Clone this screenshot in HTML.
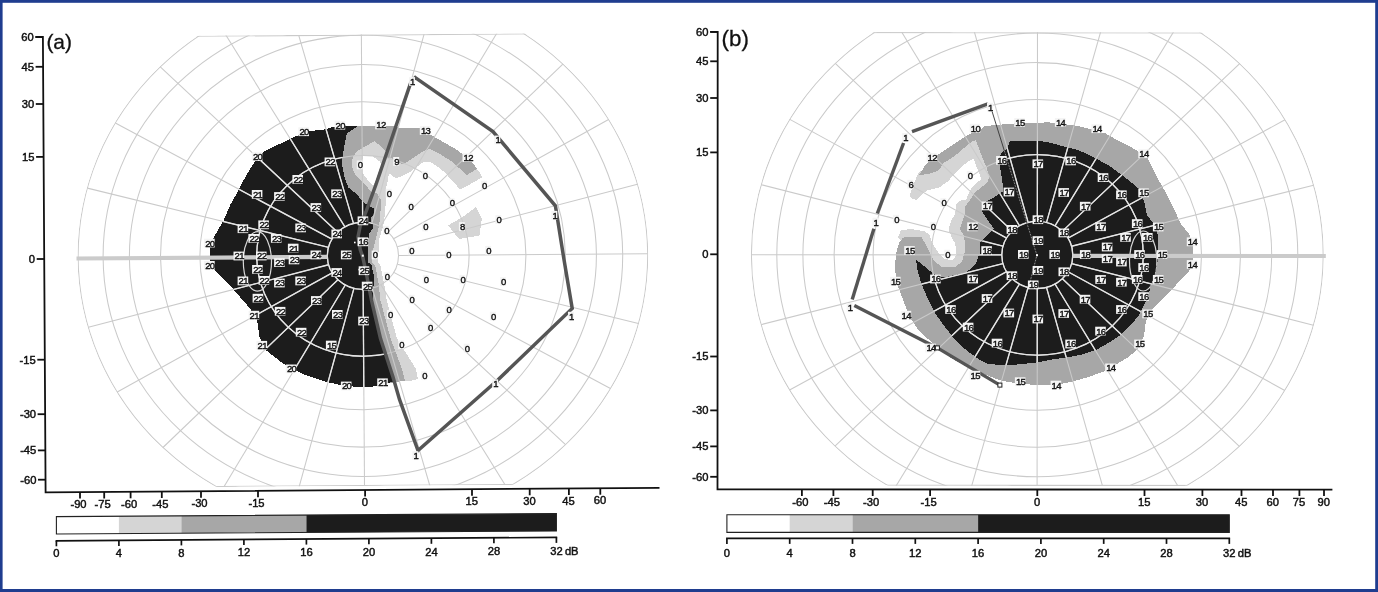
<!DOCTYPE html><html><head><meta charset="utf-8"><style>html,body{margin:0;padding:0;background:#fff}body{width:1378px;height:592px;overflow:hidden}</style></head><body><svg width="1378" height="592" viewBox="0 0 1378 592" style="display:block;will-change:transform;font-family:'Liberation Sans',sans-serif">
<defs>
<clipPath id="clipA"><polygon points="648.2,255.8 648.2,251.1 648.1,246.4 647.9,241.7 647.6,237.0 647.2,232.3 646.7,227.6 646.1,222.9 645.5,218.3 644.7,213.6 643.9,209.0 643.0,204.3 642.0,199.7 640.9,195.1 639.8,190.6 638.5,186.0 637.2,181.5 635.8,177.0 634.3,172.5 632.7,168.0 631.0,163.6 629.3,159.2 627.5,154.8 625.6,150.4 623.6,146.1 621.5,141.8 619.4,137.6 617.1,133.4 614.8,129.2 612.5,125.1 610.0,121.0 607.5,116.9 604.9,112.9 602.2,108.9 599.5,105.0 596.6,101.1 593.8,97.3 590.8,93.5 587.8,89.8 584.7,86.1 581.5,82.5 578.3,78.9 575.0,75.4 571.6,71.9 568.2,68.5 564.7,65.1 561.1,61.8 557.5,58.6 553.8,55.4 550.1,52.3 546.3,49.2 542.5,46.2 538.6,43.3 534.6,40.4 530.6,37.6 526.6,34.9 522.5,34.6 518.3,34.6 514.1,34.6 509.9,34.6 505.6,34.6 501.2,34.6 496.9,34.6 492.4,34.6 488.0,34.6 483.5,34.6 479.0,34.6 474.4,34.6 469.8,34.6 465.2,34.6 460.5,34.6 455.8,34.6 451.1,34.6 446.3,34.6 441.6,34.6 436.8,34.6 431.9,34.6 427.1,34.6 422.2,34.6 417.3,34.6 412.5,34.6 407.5,34.6 402.6,34.6 397.7,34.6 392.7,34.6 387.8,34.6 382.8,34.6 377.8,34.6 372.9,34.6 367.9,34.6 362.9,34.6 357.9,34.6 352.9,34.6 348.0,34.6 343.0,34.6 338.0,34.6 333.1,34.6 328.1,34.6 323.2,34.6 318.3,34.6 313.3,34.6 308.5,34.6 303.6,34.6 298.7,34.6 293.9,34.6 289.0,34.6 284.2,34.6 279.5,34.6 274.7,34.6 270.0,34.6 265.3,34.6 260.6,34.6 256.0,34.6 251.4,34.6 246.8,34.6 242.3,34.6 237.8,34.6 233.4,34.6 228.9,34.6 224.6,34.6 220.2,34.6 215.9,34.6 211.7,34.6 207.5,34.6 203.3,34.6 199.2,34.9 195.2,37.6 191.2,40.4 187.2,43.3 183.3,46.2 179.5,49.2 175.7,52.3 172.0,55.4 168.3,58.6 164.7,61.8 161.1,65.1 157.6,68.5 154.2,71.9 150.8,75.4 147.5,78.9 144.3,82.5 141.1,86.1 138.0,89.8 135.0,93.5 132.0,97.3 129.2,101.1 126.3,105.0 123.6,108.9 120.9,112.9 118.3,116.9 115.8,121.0 113.3,125.1 111.0,129.2 108.7,133.4 106.4,137.6 104.3,141.8 102.2,146.1 100.2,150.4 98.3,154.8 96.5,159.2 94.8,163.6 93.1,168.0 91.5,172.5 90.0,177.0 88.6,181.5 87.3,186.0 86.0,190.6 84.9,195.1 83.8,199.7 82.8,204.3 81.9,209.0 81.1,213.6 80.3,218.3 79.7,222.9 79.1,227.6 78.6,232.3 78.2,237.0 77.9,241.7 77.7,246.4 77.6,251.1 77.5,255.8 77.6,260.5 77.7,265.2 77.9,269.9 78.2,274.6 78.6,279.3 79.1,284.0 79.7,288.7 80.3,293.3 81.1,298.0 81.9,302.6 82.8,307.3 83.8,311.9 84.9,316.5 86.0,321.0 87.3,325.6 88.6,330.1 90.0,334.6 91.5,339.1 93.1,343.6 94.8,348.0 96.5,352.4 98.3,356.8 100.2,361.2 102.2,365.5 104.3,369.8 106.4,374.0 108.7,378.2 111.0,382.4 113.3,386.5 115.8,390.6 118.3,394.7 120.9,398.7 123.6,402.7 126.3,406.6 129.2,410.5 132.0,414.3 135.0,418.1 138.0,421.8 141.1,425.5 144.3,429.1 147.5,432.7 150.8,436.2 154.2,439.7 157.6,443.1 161.1,446.5 164.7,449.8 168.3,453.0 172.0,456.2 175.7,459.3 179.5,462.4 183.3,465.4 187.2,468.3 191.2,471.2 195.2,474.0 199.2,476.7 203.3,479.4 207.5,482.0 211.7,484.5 215.9,486.0 220.2,486.0 224.6,486.0 228.9,486.0 233.4,486.0 237.8,486.0 242.3,486.0 246.8,486.0 251.4,486.0 256.0,486.0 260.6,486.0 265.3,486.0 270.0,486.0 274.7,486.0 279.5,486.0 284.2,486.0 289.0,486.0 293.9,486.0 298.7,486.0 303.6,486.0 308.5,486.0 313.3,486.0 318.3,486.0 323.2,486.0 328.1,486.0 333.1,486.0 338.0,486.0 343.0,486.0 348.0,486.0 352.9,486.0 357.9,486.0 362.9,486.0 367.9,486.0 372.9,486.0 377.8,486.0 382.8,486.0 387.8,486.0 392.7,486.0 397.7,486.0 402.6,486.0 407.5,486.0 412.5,486.0 417.3,486.0 422.2,486.0 427.1,486.0 431.9,486.0 436.8,486.0 441.6,486.0 446.3,486.0 451.1,486.0 455.8,486.0 460.5,486.0 465.2,486.0 469.8,486.0 474.4,486.0 479.0,486.0 483.5,486.0 488.0,486.0 492.4,486.0 496.9,486.0 501.2,486.0 505.6,486.0 509.9,486.0 514.1,484.5 518.3,482.0 522.5,479.4 526.6,476.7 530.6,474.0 534.6,471.2 538.6,468.3 542.5,465.4 546.3,462.4 550.1,459.3 553.8,456.2 557.5,453.0 561.1,449.8 564.7,446.5 568.2,443.1 571.6,439.7 575.0,436.2 578.3,432.7 581.5,429.1 584.7,425.5 587.8,421.8 590.8,418.1 593.8,414.3 596.6,410.5 599.5,406.6 602.2,402.7 604.9,398.7 607.5,394.7 610.0,390.6 612.5,386.5 614.8,382.4 617.1,378.2 619.4,374.0 621.5,369.8 623.6,365.5 625.6,361.2 627.5,356.8 629.3,352.4 631.0,348.0 632.7,343.6 634.3,339.1 635.8,334.6 637.2,330.1 638.5,325.6 639.8,321.0 640.9,316.5 642.0,311.9 643.0,307.3 643.9,302.6 644.7,298.0 645.5,293.3 646.1,288.7 646.7,284.0 647.2,279.3 647.6,274.6 647.9,269.9 648.1,265.2 648.2,260.5 648.2,255.8"/></clipPath>
<clipPath id="clipB"><polygon points="1323.8,254.9 1323.8,250.2 1323.6,245.4 1323.4,240.7 1323.1,236.0 1322.7,231.3 1322.2,226.6 1321.7,221.8 1321.0,217.2 1320.3,212.5 1319.4,207.8 1318.5,203.2 1317.5,198.5 1316.5,193.9 1315.3,189.3 1314.0,184.7 1312.7,180.1 1311.3,175.6 1309.8,171.1 1308.2,166.6 1306.5,162.1 1304.8,157.7 1302.9,153.3 1301.0,148.9 1299.0,144.6 1297.0,140.3 1294.8,136.0 1292.6,131.8 1290.3,127.6 1287.9,123.4 1285.4,119.3 1282.9,115.2 1280.3,111.2 1277.6,107.2 1274.8,103.2 1272.0,99.3 1269.1,95.5 1266.1,91.7 1263.1,87.9 1260.0,84.2 1256.8,80.6 1253.5,77.0 1250.2,73.4 1246.8,69.9 1243.4,66.5 1239.9,63.1 1236.3,59.8 1232.7,56.6 1229.0,53.4 1225.3,50.2 1221.5,47.1 1217.6,44.1 1213.7,41.2 1209.7,38.3 1205.7,35.5 1201.6,32.7 1197.5,32.2 1193.3,32.2 1189.1,32.2 1184.9,32.2 1180.5,32.2 1176.2,32.2 1171.8,32.2 1167.4,32.2 1162.9,32.2 1158.4,32.2 1153.8,32.2 1149.2,32.2 1144.6,32.2 1140.0,32.2 1135.3,32.2 1130.6,32.2 1125.8,32.2 1121.1,32.2 1116.3,32.2 1111.5,32.2 1106.6,32.2 1101.7,32.2 1096.9,32.2 1092.0,32.2 1087.1,32.2 1082.1,32.2 1077.2,32.2 1072.2,32.2 1067.2,32.2 1062.3,32.2 1057.3,32.2 1052.3,32.2 1047.3,32.2 1042.3,32.2 1037.3,32.2 1032.3,32.2 1027.3,32.2 1022.3,32.2 1017.3,32.2 1012.3,32.2 1007.4,32.2 1002.4,32.2 997.4,32.2 992.5,32.2 987.5,32.2 982.6,32.2 977.7,32.2 972.9,32.2 968.0,32.2 963.1,32.2 958.3,32.2 953.5,32.2 948.8,32.2 944.0,32.2 939.3,32.2 934.6,32.2 930.0,32.2 925.4,32.2 920.8,32.2 916.2,32.2 911.7,32.2 907.2,32.2 902.8,32.2 898.4,32.2 894.0,32.2 889.7,32.2 885.5,32.2 881.3,32.2 877.1,32.2 873.0,32.7 868.9,35.5 864.9,38.3 860.9,41.2 857.0,44.1 853.1,47.1 849.3,50.2 845.6,53.4 841.9,56.6 838.3,59.8 834.7,63.1 831.2,66.5 827.8,69.9 824.4,73.4 821.1,77.0 817.8,80.6 814.6,84.2 811.5,87.9 808.5,91.7 805.5,95.5 802.6,99.3 799.8,103.2 797.0,107.2 794.3,111.2 791.7,115.2 789.2,119.3 786.7,123.4 784.3,127.6 782.0,131.8 779.8,136.0 777.6,140.3 775.6,144.6 773.6,148.9 771.7,153.3 769.8,157.7 768.1,162.1 766.4,166.6 764.8,171.1 763.3,175.6 761.9,180.1 760.6,184.7 759.3,189.3 758.1,193.9 757.1,198.5 756.1,203.2 755.2,207.8 754.3,212.5 753.6,217.2 752.9,221.8 752.4,226.6 751.9,231.3 751.5,236.0 751.2,240.7 751.0,245.4 750.8,250.2 750.8,254.9 750.8,259.6 751.0,264.4 751.2,269.1 751.5,273.8 751.9,278.5 752.4,283.2 752.9,288.0 753.6,292.6 754.3,297.3 755.2,302.0 756.1,306.6 757.1,311.3 758.1,315.9 759.3,320.5 760.6,325.1 761.9,329.7 763.3,334.2 764.8,338.7 766.4,343.2 768.1,347.7 769.8,352.1 771.7,356.5 773.6,360.9 775.6,365.2 777.6,369.5 779.8,373.8 782.0,378.0 784.3,382.2 786.7,386.4 789.2,390.5 791.7,394.6 794.3,398.6 797.0,402.6 799.8,406.6 802.6,410.5 805.5,414.3 808.5,418.1 811.5,421.9 814.6,425.6 817.8,429.2 821.1,432.8 824.4,436.4 827.8,439.9 831.2,443.3 834.7,446.7 838.3,450.0 841.9,453.2 845.6,456.4 849.3,459.6 853.1,462.7 857.0,465.7 860.9,468.6 864.9,471.5 868.9,474.3 873.0,477.1 877.1,479.7 881.3,482.3 885.5,484.9 889.7,485.9 894.0,485.9 898.4,485.9 902.8,485.9 907.2,485.9 911.7,485.9 916.2,485.9 920.8,485.9 925.4,485.9 930.0,485.9 934.6,485.9 939.3,485.9 944.0,485.9 948.8,485.9 953.5,485.9 958.3,485.9 963.1,485.9 968.0,485.9 972.9,485.9 977.7,485.9 982.6,485.9 987.5,485.9 992.5,485.9 997.4,485.9 1002.4,485.9 1007.4,485.9 1012.3,485.9 1017.3,485.9 1022.3,485.9 1027.3,485.9 1032.3,485.9 1037.3,485.9 1042.3,485.9 1047.3,485.9 1052.3,485.9 1057.3,485.9 1062.3,485.9 1067.2,485.9 1072.2,485.9 1077.2,485.9 1082.1,485.9 1087.1,485.9 1092.0,485.9 1096.9,485.9 1101.7,485.9 1106.6,485.9 1111.5,485.9 1116.3,485.9 1121.1,485.9 1125.8,485.9 1130.6,485.9 1135.3,485.9 1140.0,485.9 1144.6,485.9 1149.2,485.9 1153.8,485.9 1158.4,485.9 1162.9,485.9 1167.4,485.9 1171.8,485.9 1176.2,485.9 1180.5,485.9 1184.9,485.9 1189.1,484.9 1193.3,482.3 1197.5,479.7 1201.6,477.1 1205.7,474.3 1209.7,471.5 1213.7,468.6 1217.6,465.7 1221.5,462.7 1225.3,459.6 1229.0,456.4 1232.7,453.2 1236.3,450.0 1239.9,446.7 1243.4,443.3 1246.8,439.9 1250.2,436.4 1253.5,432.8 1256.8,429.2 1260.0,425.6 1263.1,421.9 1266.1,418.1 1269.1,414.3 1272.0,410.5 1274.8,406.6 1277.6,402.6 1280.3,398.6 1282.9,394.6 1285.4,390.5 1287.9,386.4 1290.3,382.2 1292.6,378.0 1294.8,373.8 1297.0,369.5 1299.0,365.2 1301.0,360.9 1302.9,356.5 1304.8,352.1 1306.5,347.7 1308.2,343.2 1309.8,338.7 1311.3,334.2 1312.7,329.7 1314.0,325.1 1315.3,320.5 1316.5,315.9 1317.5,311.3 1318.5,306.6 1319.4,302.0 1320.3,297.3 1321.0,292.6 1321.7,288.0 1322.2,283.2 1322.7,278.5 1323.1,273.8 1323.4,269.1 1323.6,264.4 1323.8,259.6 1323.8,254.9"/></clipPath>
<clipPath id="blkA"><polygon points="357.8,126.0 335.1,126.4 325.0,129.4 309.8,131.0 296.3,136.1 287.8,140.3 272.6,147.1 264.2,151.3 255.7,160.6 249.0,170.7 242.2,182.6 236.3,194.4 230.4,204.5 223.8,220.0 214.6,236.0 210.0,246.0 210.0,266.0 214.6,270.0 229.0,284.5 247.5,305.5 256.6,317.0 259.5,337.0 265.7,350.0 283.0,363.5 304.0,374.5 325.0,381.5 344.0,385.8 365.3,387.5 380.0,385.5 393.2,381.6 389.4,369.0 384.3,351.3 378.0,326.0 372.9,300.6 372.9,290.5 374.5,279.0 371.6,265.2 367.7,262.0 367.7,252.6 368.4,239.0 369.5,233.0 372.5,229.0 373.0,224.0 371.0,222.0 370.5,218.8 374.0,214.0 374.5,209.0 371.0,207.0 365.0,203.5 362.0,201.1 357.0,194.4 348.5,187.6 345.1,179.2 341.8,164.0 342.6,155.5 345.1,142.0 346.8,133.6"/></clipPath>
<clipPath id="blkB"><polygon points="1010.0,140.7 1037.3,140.7 1049.1,142.5 1066.8,147.2 1078.7,150.2 1094.4,157.7 1108.6,165.4 1122.7,175.5 1140.0,189.6 1144.5,203.0 1147.0,215.0 1153.9,224.1 1157.7,234.8 1158.4,245.4 1158.5,257.2 1155.4,272.8 1150.8,286.5 1146.8,299.4 1139.0,315.0 1131.3,324.7 1121.6,334.4 1109.9,342.1 1096.3,349.9 1080.8,354.8 1065.2,357.7 1051.7,359.6 1035.9,362.6 1016.5,364.5 1001.0,365.4 987.4,363.5 977.7,358.6 966.0,349.9 955.3,340.2 944.7,326.6 935.0,313.0 928.2,299.4 921.4,283.9 917.7,271.0 916.1,259.7 924.2,266.1 933.8,274.2 943.4,277.4 965.9,272.6 975.5,264.5 980.3,251.7 980.5,242.4 994.0,228.9 987.0,219.0 981.9,211.4 983.2,203.2 995.4,196.5 1003.5,191.0 1002.2,180.3 999.8,166.0 1000.6,154.0 1007.7,147.8"/></clipPath>
</defs>
<rect x="0" y="0" width="1378" height="592" fill="#1f3d8f"/>
<rect x="2.6" y="2.8" width="1372.6" height="586.2" fill="#ffffff"/>
<g shape-rendering="crispEdges">
<polygon points="385.7,150.0 400.0,150.0 430.0,146.0 460.0,160.0 478.6,170.7 482.0,177.5 470.1,184.3 460.0,189.3 451.6,180.0 444.8,172.4 436.4,165.7 429.0,161.5 422.8,162.3 416.1,167.4 409.3,172.4 402.6,175.8 395.8,178.3 389.0,173.3 387.4,182.6 385.7,189.3 385.7,199.5 385.3,212.0 383.2,225.5 379.2,239.0 378.5,252.6 378.0,262.0 380.5,266.0 384.0,283.0 386.8,300.6 397.0,338.6 416.0,369.0 418.0,379.0 410.0,381.0 400.0,381.0 390.0,350.0 376.0,300.0 368.0,256.0 366.0,210.0 360.0,190.0 350.0,170.0 350.0,155.0 358.0,146.0 366.5,143.0 374.7,141.2 380.6,146.3" fill="#d5d5d5"/>
<polygon points="476.0,206.9 481.8,218.7 479.5,235.6 459.2,239.0 448.0,225.4 462.6,217.0" fill="#d5d5d5"/>
<polygon points="362.9,156.4 373.0,156.4 379.8,161.5 381.5,164.0 379.0,170.7 375.5,180.9 373.0,185.9 367.1,179.2 362.0,172.4 362.0,162.3" fill="#ffffff"/>
<polygon points="346.0,126.0 393.0,126.0 400.0,128.0 419.5,128.5 433.0,136.1 444.8,142.9 456.6,149.6 463.4,154.7 473.5,164.0 476.9,169.0 466.8,175.0 458.3,167.4 453.2,162.3 439.7,153.9 429.6,148.8 422.8,151.3 414.4,157.2 407.6,161.5 402.6,164.0 399.2,163.1 393.3,158.9 385.7,157.2 385.7,151.3 380.6,146.3 374.7,141.2 367.1,145.4 357.0,151.3 352.7,157.2 351.9,165.7 354.4,173.3 360.3,180.0 367.1,186.8 371.3,191.9 377.0,193.5 380.6,199.5 380.5,212.0 379.2,225.5 375.8,239.0 372.4,252.6 372.0,262.0 375.4,266.0 378.5,283.0 380.5,300.6 390.6,338.6 402.0,369.0 405.0,380.5 390.0,383.0 365.0,300.0 360.0,256.0 360.0,210.0 346.0,190.0 338.0,160.0 340.0,135.0" fill="#a7a7a7"/>
<polygon points="357.8,126.0 335.1,126.4 325.0,129.4 309.8,131.0 296.3,136.1 287.8,140.3 272.6,147.1 264.2,151.3 255.7,160.6 249.0,170.7 242.2,182.6 236.3,194.4 230.4,204.5 223.8,220.0 214.6,236.0 210.0,246.0 210.0,266.0 214.6,270.0 229.0,284.5 247.5,305.5 256.6,317.0 259.5,337.0 265.7,350.0 283.0,363.5 304.0,374.5 325.0,381.5 344.0,385.8 365.3,387.5 380.0,385.5 393.2,381.6 389.4,369.0 384.3,351.3 378.0,326.0 372.9,300.6 372.9,290.5 374.5,279.0 371.6,265.2 367.7,262.0 367.7,252.6 368.4,239.0 369.5,233.0 372.5,229.0 373.0,224.0 371.0,222.0 370.5,218.8 374.0,214.0 374.5,209.0 371.0,207.0 365.0,203.5 362.0,201.1 357.0,194.4 348.5,187.6 345.1,179.2 341.8,164.0 342.6,155.5 345.1,142.0 346.8,133.6" fill="#1c1c1c"/>
</g>
<g transform="rotate(-0.40 362.9 255.8)" clip-path="url(#clipA)" fill="none" stroke="#cacaca" stroke-width="1.05" ><ellipse cx="362.9" cy="255.8" rx="35.6" ry="33.6"/><ellipse cx="362.9" cy="255.8" rx="106.2" ry="100.4"/><ellipse cx="362.9" cy="255.8" rx="163.0" ry="154.0"/><ellipse cx="362.9" cy="255.8" rx="202.4" ry="191.3"/><ellipse cx="362.9" cy="255.8" rx="233.5" ry="220.7"/><ellipse cx="362.9" cy="255.8" rx="259.8" ry="245.5"/><ellipse cx="362.9" cy="255.8" rx="284.8" ry="269.1"/><line x1="398.5" y1="255.8" x2="647.6" y2="255.8"/><line x1="397.3" y1="247.1" x2="637.9" y2="186.2"/><line x1="393.7" y1="239.0" x2="609.5" y2="121.3"/><line x1="388.1" y1="232.0" x2="564.2" y2="65.5"/><line x1="380.7" y1="226.7" x2="505.3" y2="22.8"/><line x1="372.1" y1="223.3" x2="436.6" y2="-4.1"/><line x1="362.9" y1="222.2" x2="362.9" y2="-13.3"/><line x1="353.7" y1="223.3" x2="289.2" y2="-4.1"/><line x1="345.1" y1="226.7" x2="220.5" y2="22.8"/><line x1="337.7" y1="232.0" x2="161.6" y2="65.5"/><line x1="332.1" y1="239.0" x2="116.3" y2="121.3"/><line x1="328.5" y1="247.1" x2="87.9" y2="186.2"/><line x1="327.3" y1="255.8" x2="78.1" y2="255.8"/><line x1="328.5" y1="264.5" x2="87.9" y2="325.4"/><line x1="332.1" y1="272.6" x2="116.3" y2="390.3"/><line x1="337.7" y1="279.6" x2="161.6" y2="446.1"/><line x1="345.1" y1="284.9" x2="220.5" y2="488.8"/><line x1="353.7" y1="288.3" x2="289.2" y2="515.7"/><line x1="362.9" y1="289.4" x2="362.9" y2="524.9"/><line x1="372.1" y1="288.3" x2="436.6" y2="515.7"/><line x1="380.7" y1="284.9" x2="505.3" y2="488.8"/><line x1="388.1" y1="279.6" x2="564.2" y2="446.1"/><line x1="393.7" y1="272.6" x2="609.5" y2="390.3"/><line x1="397.3" y1="264.5" x2="637.9" y2="325.4"/><line x1="62.9" y1="35.1" x2="662.9" y2="35.1"/><line x1="62.9" y1="485.5" x2="662.9" y2="485.5"/></g>
<g clip-path="url(#blkA)"><g transform="rotate(-0.40 362.9 255.8)" clip-path="url(#clipA)" fill="none" stroke="#e6e6e6" stroke-width="1.35" ><ellipse cx="362.9" cy="255.8" rx="35.6" ry="33.6"/><ellipse cx="362.9" cy="255.8" rx="106.2" ry="100.4"/><ellipse cx="362.9" cy="255.8" rx="163.0" ry="154.0"/><ellipse cx="362.9" cy="255.8" rx="202.4" ry="191.3"/><ellipse cx="362.9" cy="255.8" rx="233.5" ry="220.7"/><ellipse cx="362.9" cy="255.8" rx="259.8" ry="245.5"/><ellipse cx="362.9" cy="255.8" rx="284.8" ry="269.1"/><line x1="398.5" y1="255.8" x2="647.6" y2="255.8"/><line x1="397.3" y1="247.1" x2="637.9" y2="186.2"/><line x1="393.7" y1="239.0" x2="609.5" y2="121.3"/><line x1="388.1" y1="232.0" x2="564.2" y2="65.5"/><line x1="380.7" y1="226.7" x2="505.3" y2="22.8"/><line x1="372.1" y1="223.3" x2="436.6" y2="-4.1"/><line x1="362.9" y1="222.2" x2="362.9" y2="-13.3"/><line x1="353.7" y1="223.3" x2="289.2" y2="-4.1"/><line x1="345.1" y1="226.7" x2="220.5" y2="22.8"/><line x1="337.7" y1="232.0" x2="161.6" y2="65.5"/><line x1="332.1" y1="239.0" x2="116.3" y2="121.3"/><line x1="328.5" y1="247.1" x2="87.9" y2="186.2"/><line x1="327.3" y1="255.8" x2="78.1" y2="255.8"/><line x1="328.5" y1="264.5" x2="87.9" y2="325.4"/><line x1="332.1" y1="272.6" x2="116.3" y2="390.3"/><line x1="337.7" y1="279.6" x2="161.6" y2="446.1"/><line x1="345.1" y1="284.9" x2="220.5" y2="488.8"/><line x1="353.7" y1="288.3" x2="289.2" y2="515.7"/><line x1="362.9" y1="289.4" x2="362.9" y2="524.9"/><line x1="372.1" y1="288.3" x2="436.6" y2="515.7"/><line x1="380.7" y1="284.9" x2="505.3" y2="488.8"/><line x1="388.1" y1="279.6" x2="564.2" y2="446.1"/><line x1="393.7" y1="272.6" x2="609.5" y2="390.3"/><line x1="397.3" y1="264.5" x2="637.9" y2="325.4"/><line x1="62.9" y1="35.1" x2="662.9" y2="35.1"/><line x1="62.9" y1="485.5" x2="662.9" y2="485.5"/></g><ellipse cx="257.4" cy="261.4" rx="14.1" ry="29.7" fill="none" stroke="#d8d8d8" stroke-width="1.2"/></g>
<line x1="76.5" y1="258.5" x2="327.5" y2="256.8" stroke="#cbcbcb" stroke-width="4.2"/>
<polygon points="415.3,77.6 493.0,131.6 555.4,205.8 563.9,259.0 572.2,308.5 497.8,380.0 418.0,450.5 399.5,399.4 393.0,377.0 380.5,338.6 371.6,300.6 366.0,272.0 362.5,256.0 360.3,249.9 358.0,237.0 360.3,225.5 366.4,210.7 375.8,185.0 411.0,82.0" fill="none" stroke="#555555" stroke-width="3.5" stroke-linejoin="miter"/>
<rect x="361.8" y="254.7" width="2" height="2" fill="#fff"/>
<rect x="354" y="241.7" width="1.6" height="1.6" fill="#fff"/><rect x="358.4" y="268.8" width="1.6" height="1.6" fill="#fff"/>
<rect x="334.6" y="120.8" width="10.6" height="8.8" fill="#f4f4f4"/><text x="340.2" y="128.6" text-anchor="middle" font-size="9.5" letter-spacing="-0.7" fill="#111" stroke="#111" stroke-width="0.38">20</text>
<rect x="298.4" y="127.3" width="10.6" height="8.8" fill="#f4f4f4"/><text x="304.1" y="135.1" text-anchor="middle" font-size="9.5" letter-spacing="-0.7" fill="#111" stroke="#111" stroke-width="0.38">20</text>
<rect x="251.8" y="152.2" width="10.6" height="8.8" fill="#f4f4f4"/><text x="257.5" y="160.0" text-anchor="middle" font-size="9.5" letter-spacing="-0.7" fill="#111" stroke="#111" stroke-width="0.38">20</text>
<rect x="324.6" y="157.5" width="10.6" height="8.8" fill="#f4f4f4"/><text x="330.2" y="165.3" text-anchor="middle" font-size="9.5" letter-spacing="-0.7" fill="#111" stroke="#111" stroke-width="0.38">22</text>
<rect x="292.4" y="175.0" width="10.6" height="8.8" fill="#f4f4f4"/><text x="298.1" y="182.8" text-anchor="middle" font-size="9.5" letter-spacing="-0.7" fill="#111" stroke="#111" stroke-width="0.38">22</text>
<rect x="251.8" y="190.0" width="10.6" height="8.8" fill="#f4f4f4"/><text x="257.5" y="197.8" text-anchor="middle" font-size="9.5" letter-spacing="-0.7" fill="#111" stroke="#111" stroke-width="0.38">21</text>
<rect x="274.1" y="192.1" width="10.6" height="8.8" fill="#f4f4f4"/><text x="279.8" y="199.9" text-anchor="middle" font-size="9.5" letter-spacing="-0.7" fill="#111" stroke="#111" stroke-width="0.38">22</text>
<rect x="331.2" y="189.4" width="10.6" height="8.8" fill="#f4f4f4"/><text x="336.9" y="197.2" text-anchor="middle" font-size="9.5" letter-spacing="-0.7" fill="#111" stroke="#111" stroke-width="0.38">23</text>
<rect x="310.5" y="203.1" width="10.6" height="8.8" fill="#f4f4f4"/><text x="316.2" y="210.9" text-anchor="middle" font-size="9.5" letter-spacing="-0.7" fill="#111" stroke="#111" stroke-width="0.38">23</text>
<rect x="357.6" y="216.4" width="10.6" height="8.8" fill="#f4f4f4"/><text x="363.2" y="224.2" text-anchor="middle" font-size="9.5" letter-spacing="-0.7" fill="#111" stroke="#111" stroke-width="0.38">24</text>
<rect x="258.3" y="220.4" width="10.6" height="8.8" fill="#f4f4f4"/><text x="264.0" y="228.2" text-anchor="middle" font-size="9.5" letter-spacing="-0.7" fill="#111" stroke="#111" stroke-width="0.38">22</text>
<rect x="237.6" y="224.3" width="10.6" height="8.8" fill="#f4f4f4"/><text x="243.2" y="232.1" text-anchor="middle" font-size="9.5" letter-spacing="-0.7" fill="#111" stroke="#111" stroke-width="0.38">21</text>
<rect x="295.3" y="223.5" width="10.6" height="8.8" fill="#f4f4f4"/><text x="301.0" y="231.3" text-anchor="middle" font-size="9.5" letter-spacing="-0.7" fill="#111" stroke="#111" stroke-width="0.38">23</text>
<rect x="331.4" y="229.5" width="10.6" height="8.8" fill="#f4f4f4"/><text x="337.1" y="237.3" text-anchor="middle" font-size="9.5" letter-spacing="-0.7" fill="#111" stroke="#111" stroke-width="0.38">24</text>
<rect x="248.4" y="234.0" width="10.6" height="8.8" fill="#f4f4f4"/><text x="254.0" y="241.8" text-anchor="middle" font-size="9.5" letter-spacing="-0.7" fill="#111" stroke="#111" stroke-width="0.38">22</text>
<rect x="270.9" y="234.0" width="10.6" height="8.8" fill="#f4f4f4"/><text x="276.6" y="241.8" text-anchor="middle" font-size="9.5" letter-spacing="-0.7" fill="#111" stroke="#111" stroke-width="0.38">23</text>
<rect x="357.6" y="237.4" width="10.6" height="8.8" fill="#f4f4f4"/><text x="363.2" y="245.2" text-anchor="middle" font-size="9.5" letter-spacing="-0.7" fill="#111" stroke="#111" stroke-width="0.38">16</text>
<rect x="204.1" y="238.7" width="10.6" height="8.8" fill="#f4f4f4"/><text x="209.8" y="246.5" text-anchor="middle" font-size="9.5" letter-spacing="-0.7" fill="#111" stroke="#111" stroke-width="0.38">20</text>
<rect x="287.9" y="243.7" width="10.6" height="8.8" fill="#f4f4f4"/><text x="293.6" y="251.5" text-anchor="middle" font-size="9.5" letter-spacing="-0.7" fill="#111" stroke="#111" stroke-width="0.38">21</text>
<rect x="340.9" y="250.5" width="10.6" height="8.8" fill="#f4f4f4"/><text x="346.6" y="258.3" text-anchor="middle" font-size="9.5" letter-spacing="-0.7" fill="#111" stroke="#111" stroke-width="0.38">25</text>
<rect x="310.5" y="250.5" width="10.6" height="8.8" fill="#f4f4f4"/><text x="316.2" y="258.3" text-anchor="middle" font-size="9.5" letter-spacing="-0.7" fill="#111" stroke="#111" stroke-width="0.38">24</text>
<rect x="233.5" y="251.6" width="10.6" height="8.8" fill="#f4f4f4"/><text x="239.2" y="259.4" text-anchor="middle" font-size="9.5" letter-spacing="-0.7" fill="#111" stroke="#111" stroke-width="0.38">21</text>
<rect x="256.0" y="251.6" width="10.6" height="8.8" fill="#f4f4f4"/><text x="261.7" y="259.4" text-anchor="middle" font-size="9.5" letter-spacing="-0.7" fill="#111" stroke="#111" stroke-width="0.38">22</text>
<rect x="288.7" y="255.5" width="10.6" height="8.8" fill="#f4f4f4"/><text x="294.4" y="263.3" text-anchor="middle" font-size="9.5" letter-spacing="-0.7" fill="#111" stroke="#111" stroke-width="0.38">23</text>
<rect x="274.1" y="258.2" width="10.6" height="8.8" fill="#f4f4f4"/><text x="279.8" y="266.0" text-anchor="middle" font-size="9.5" letter-spacing="-0.7" fill="#111" stroke="#111" stroke-width="0.38">23</text>
<rect x="204.1" y="261.0" width="10.6" height="8.8" fill="#f4f4f4"/><text x="209.8" y="268.8" text-anchor="middle" font-size="9.5" letter-spacing="-0.7" fill="#111" stroke="#111" stroke-width="0.38">20</text>
<rect x="252.1" y="265.0" width="10.6" height="8.8" fill="#f4f4f4"/><text x="257.8" y="272.8" text-anchor="middle" font-size="9.5" letter-spacing="-0.7" fill="#111" stroke="#111" stroke-width="0.38">22</text>
<rect x="358.7" y="266.3" width="10.6" height="8.8" fill="#f4f4f4"/><text x="364.4" y="274.1" text-anchor="middle" font-size="9.5" letter-spacing="-0.7" fill="#111" stroke="#111" stroke-width="0.38">25</text>
<rect x="331.4" y="268.1" width="10.6" height="8.8" fill="#f4f4f4"/><text x="337.1" y="275.9" text-anchor="middle" font-size="9.5" letter-spacing="-0.7" fill="#111" stroke="#111" stroke-width="0.38">24</text>
<rect x="237.6" y="276.5" width="10.6" height="8.8" fill="#f4f4f4"/><text x="243.2" y="284.3" text-anchor="middle" font-size="9.5" letter-spacing="-0.7" fill="#111" stroke="#111" stroke-width="0.38">21</text>
<rect x="258.6" y="276.0" width="10.6" height="8.8" fill="#f4f4f4"/><text x="264.2" y="283.8" text-anchor="middle" font-size="9.5" letter-spacing="-0.7" fill="#111" stroke="#111" stroke-width="0.38">22</text>
<rect x="274.1" y="278.6" width="10.6" height="8.8" fill="#f4f4f4"/><text x="279.8" y="286.4" text-anchor="middle" font-size="9.5" letter-spacing="-0.7" fill="#111" stroke="#111" stroke-width="0.38">23</text>
<rect x="295.3" y="276.5" width="10.6" height="8.8" fill="#f4f4f4"/><text x="301.0" y="284.3" text-anchor="middle" font-size="9.5" letter-spacing="-0.7" fill="#111" stroke="#111" stroke-width="0.38">23</text>
<rect x="361.8" y="281.7" width="10.6" height="8.8" fill="#f4f4f4"/><text x="367.5" y="289.5" text-anchor="middle" font-size="9.5" letter-spacing="-0.7" fill="#111" stroke="#111" stroke-width="0.38">25</text>
<rect x="252.6" y="293.8" width="10.6" height="8.8" fill="#f4f4f4"/><text x="258.2" y="301.6" text-anchor="middle" font-size="9.5" letter-spacing="-0.7" fill="#111" stroke="#111" stroke-width="0.38">22</text>
<rect x="311.0" y="296.1" width="10.6" height="8.8" fill="#f4f4f4"/><text x="316.7" y="303.9" text-anchor="middle" font-size="9.5" letter-spacing="-0.7" fill="#111" stroke="#111" stroke-width="0.38">23</text>
<rect x="274.8" y="306.9" width="10.6" height="8.8" fill="#f4f4f4"/><text x="280.5" y="314.7" text-anchor="middle" font-size="9.5" letter-spacing="-0.7" fill="#111" stroke="#111" stroke-width="0.38">22</text>
<rect x="248.6" y="310.8" width="10.6" height="8.8" fill="#f4f4f4"/><text x="254.2" y="318.6" text-anchor="middle" font-size="9.5" letter-spacing="-0.7" fill="#111" stroke="#111" stroke-width="0.38">21</text>
<rect x="332.0" y="310.0" width="10.6" height="8.8" fill="#f4f4f4"/><text x="337.7" y="317.8" text-anchor="middle" font-size="9.5" letter-spacing="-0.7" fill="#111" stroke="#111" stroke-width="0.38">23</text>
<rect x="358.2" y="316.6" width="10.6" height="8.8" fill="#f4f4f4"/><text x="363.9" y="324.4" text-anchor="middle" font-size="9.5" letter-spacing="-0.7" fill="#111" stroke="#111" stroke-width="0.38">23</text>
<rect x="295.8" y="327.8" width="10.6" height="8.8" fill="#f4f4f4"/><text x="301.5" y="335.6" text-anchor="middle" font-size="9.5" letter-spacing="-0.7" fill="#111" stroke="#111" stroke-width="0.38">22</text>
<rect x="325.9" y="340.7" width="10.6" height="8.8" fill="#f4f4f4"/><text x="331.6" y="348.5" text-anchor="middle" font-size="9.5" letter-spacing="-0.7" fill="#111" stroke="#111" stroke-width="0.38">15</text>
<rect x="256.5" y="340.9" width="10.6" height="8.8" fill="#f4f4f4"/><text x="262.2" y="348.7" text-anchor="middle" font-size="9.5" letter-spacing="-0.7" fill="#111" stroke="#111" stroke-width="0.38">21</text>
<rect x="285.8" y="364.5" width="10.6" height="8.8" fill="#f4f4f4"/><text x="291.5" y="372.3" text-anchor="middle" font-size="9.5" letter-spacing="-0.7" fill="#111" stroke="#111" stroke-width="0.38">20</text>
<rect x="340.9" y="381.6" width="10.6" height="8.8" fill="#f4f4f4"/><text x="346.6" y="389.4" text-anchor="middle" font-size="9.5" letter-spacing="-0.7" fill="#111" stroke="#111" stroke-width="0.38">20</text>
<rect x="377.2" y="378.4" width="10.6" height="8.8" fill="#f4f4f4"/><text x="382.9" y="386.2" text-anchor="middle" font-size="9.5" letter-spacing="-0.7" fill="#111" stroke="#111" stroke-width="0.38">21</text>
<rect x="375.2" y="120.5" width="10.6" height="8.8" fill="#f4f4f4"/><text x="380.9" y="128.3" text-anchor="middle" font-size="9.5" letter-spacing="-0.7" fill="#111" stroke="#111" stroke-width="0.38">12</text>
<rect x="419.8" y="126.1" width="10.6" height="8.8" fill="#f4f4f4"/><text x="425.5" y="133.9" text-anchor="middle" font-size="9.5" letter-spacing="-0.7" fill="#111" stroke="#111" stroke-width="0.38">13</text>
<rect x="462.5" y="153.2" width="10.6" height="8.8" fill="#f4f4f4"/><text x="468.2" y="161.0" text-anchor="middle" font-size="9.5" letter-spacing="-0.7" fill="#111" stroke="#111" stroke-width="0.38">12</text>
<rect x="393.2" y="157.0" width="5.9" height="8.8" fill="#f4f4f4"/><text x="396.6" y="164.8" text-anchor="middle" font-size="9.5" letter-spacing="-0.7" fill="#111" stroke="#111" stroke-width="0.38">9</text>
<rect x="356.8" y="160.5" width="5.9" height="8.8" fill="#f4f4f4"/><text x="360.1" y="168.3" text-anchor="middle" font-size="9.5" letter-spacing="-0.7" fill="#111" stroke="#111" stroke-width="0.38">0</text>
<rect x="421.7" y="171.3" width="5.9" height="8.8" fill="#f4f4f4"/><text x="425.0" y="179.1" text-anchor="middle" font-size="9.5" letter-spacing="-0.7" fill="#111" stroke="#111" stroke-width="0.38">0</text>
<rect x="481.1" y="180.7" width="5.9" height="8.8" fill="#f4f4f4"/><text x="484.4" y="188.5" text-anchor="middle" font-size="9.5" letter-spacing="-0.7" fill="#111" stroke="#111" stroke-width="0.38">0</text>
<rect x="385.7" y="188.8" width="5.9" height="8.8" fill="#f4f4f4"/><text x="389.0" y="196.6" text-anchor="middle" font-size="9.5" letter-spacing="-0.7" fill="#111" stroke="#111" stroke-width="0.38">0</text>
<rect x="448.7" y="198.3" width="5.9" height="8.8" fill="#f4f4f4"/><text x="452.0" y="206.1" text-anchor="middle" font-size="9.5" letter-spacing="-0.7" fill="#111" stroke="#111" stroke-width="0.38">0</text>
<rect x="407.6" y="202.4" width="5.9" height="8.8" fill="#f4f4f4"/><text x="410.9" y="210.2" text-anchor="middle" font-size="9.5" letter-spacing="-0.7" fill="#111" stroke="#111" stroke-width="0.38">0</text>
<rect x="495.4" y="215.1" width="5.9" height="8.8" fill="#f4f4f4"/><text x="498.8" y="222.9" text-anchor="middle" font-size="9.5" letter-spacing="-0.7" fill="#111" stroke="#111" stroke-width="0.38">0</text>
<rect x="458.9" y="222.1" width="5.9" height="8.8" fill="#f4f4f4"/><text x="462.2" y="229.9" text-anchor="middle" font-size="9.5" letter-spacing="-0.7" fill="#111" stroke="#111" stroke-width="0.38">8</text>
<rect x="422.2" y="222.6" width="5.9" height="8.8" fill="#f4f4f4"/><text x="425.5" y="230.4" text-anchor="middle" font-size="9.5" letter-spacing="-0.7" fill="#111" stroke="#111" stroke-width="0.38">0</text>
<rect x="383.2" y="225.9" width="5.9" height="8.8" fill="#f4f4f4"/><text x="386.6" y="233.7" text-anchor="middle" font-size="9.5" letter-spacing="-0.7" fill="#111" stroke="#111" stroke-width="0.38">0</text>
<rect x="408.2" y="246.4" width="5.9" height="8.8" fill="#f4f4f4"/><text x="411.5" y="254.2" text-anchor="middle" font-size="9.5" letter-spacing="-0.7" fill="#111" stroke="#111" stroke-width="0.38">0</text>
<rect x="485.2" y="245.9" width="5.9" height="8.8" fill="#f4f4f4"/><text x="488.5" y="253.7" text-anchor="middle" font-size="9.5" letter-spacing="-0.7" fill="#111" stroke="#111" stroke-width="0.38">0</text>
<rect x="445.2" y="250.2" width="5.9" height="8.8" fill="#f4f4f4"/><text x="448.5" y="258.0" text-anchor="middle" font-size="9.5" letter-spacing="-0.7" fill="#111" stroke="#111" stroke-width="0.38">0</text>
<rect x="371.7" y="250.5" width="5.9" height="8.8" fill="#f4f4f4"/><text x="375.0" y="258.3" text-anchor="middle" font-size="9.5" letter-spacing="-0.7" fill="#111" stroke="#111" stroke-width="0.38">0</text>
<rect x="422.8" y="274.9" width="5.9" height="8.8" fill="#f4f4f4"/><text x="426.1" y="282.7" text-anchor="middle" font-size="9.5" letter-spacing="-0.7" fill="#111" stroke="#111" stroke-width="0.38">0</text>
<rect x="459.4" y="274.9" width="5.9" height="8.8" fill="#f4f4f4"/><text x="462.8" y="282.7" text-anchor="middle" font-size="9.5" letter-spacing="-0.7" fill="#111" stroke="#111" stroke-width="0.38">0</text>
<rect x="500.1" y="277.2" width="5.9" height="8.8" fill="#f4f4f4"/><text x="503.4" y="285.0" text-anchor="middle" font-size="9.5" letter-spacing="-0.7" fill="#111" stroke="#111" stroke-width="0.38">0</text>
<rect x="408.6" y="294.8" width="5.9" height="8.8" fill="#f4f4f4"/><text x="411.9" y="302.6" text-anchor="middle" font-size="9.5" letter-spacing="-0.7" fill="#111" stroke="#111" stroke-width="0.38">0</text>
<rect x="445.4" y="305.2" width="5.9" height="8.8" fill="#f4f4f4"/><text x="448.8" y="313.0" text-anchor="middle" font-size="9.5" letter-spacing="-0.7" fill="#111" stroke="#111" stroke-width="0.38">0</text>
<rect x="489.9" y="311.7" width="5.9" height="8.8" fill="#f4f4f4"/><text x="493.2" y="319.5" text-anchor="middle" font-size="9.5" letter-spacing="-0.7" fill="#111" stroke="#111" stroke-width="0.38">0</text>
<rect x="386.9" y="310.1" width="5.9" height="8.8" fill="#f4f4f4"/><text x="390.2" y="317.9" text-anchor="middle" font-size="9.5" letter-spacing="-0.7" fill="#111" stroke="#111" stroke-width="0.38">0</text>
<rect x="427.1" y="322.8" width="5.9" height="8.8" fill="#f4f4f4"/><text x="430.4" y="330.6" text-anchor="middle" font-size="9.5" letter-spacing="-0.7" fill="#111" stroke="#111" stroke-width="0.38">0</text>
<rect x="398.2" y="340.4" width="5.9" height="8.8" fill="#f4f4f4"/><text x="401.6" y="348.2" text-anchor="middle" font-size="9.5" letter-spacing="-0.7" fill="#111" stroke="#111" stroke-width="0.38">0</text>
<rect x="463.7" y="343.7" width="5.9" height="8.8" fill="#f4f4f4"/><text x="467.0" y="351.5" text-anchor="middle" font-size="9.5" letter-spacing="-0.7" fill="#111" stroke="#111" stroke-width="0.38">0</text>
<rect x="421.2" y="371.3" width="5.9" height="8.8" fill="#f4f4f4"/><text x="424.6" y="379.1" text-anchor="middle" font-size="9.5" letter-spacing="-0.7" fill="#111" stroke="#111" stroke-width="0.38">0</text>
<rect x="383.7" y="272.0" width="5.9" height="8.8" fill="#f4f4f4"/><text x="387.0" y="279.8" text-anchor="middle" font-size="9.5" letter-spacing="-0.7" fill="#111" stroke="#111" stroke-width="0.38">0</text>
<rect x="409.1" y="77.1" width="5.9" height="8.8" fill="#f4f4f4"/><text x="412.4" y="84.9" text-anchor="middle" font-size="9.5" letter-spacing="-0.7" fill="#111" stroke="#111" stroke-width="0.38">1</text>
<rect x="494.4" y="135.6" width="5.9" height="8.8" fill="#f4f4f4"/><text x="497.8" y="143.4" text-anchor="middle" font-size="9.5" letter-spacing="-0.7" fill="#111" stroke="#111" stroke-width="0.38">1</text>
<rect x="551.4" y="210.9" width="5.9" height="8.8" fill="#f4f4f4"/><text x="554.8" y="218.7" text-anchor="middle" font-size="9.5" letter-spacing="-0.7" fill="#111" stroke="#111" stroke-width="0.38">1</text>
<rect x="568.0" y="311.8" width="5.9" height="8.8" fill="#f4f4f4"/><text x="571.4" y="319.6" text-anchor="middle" font-size="9.5" letter-spacing="-0.7" fill="#111" stroke="#111" stroke-width="0.38">1</text>
<rect x="492.2" y="379.4" width="5.9" height="8.8" fill="#f4f4f4"/><text x="495.6" y="387.2" text-anchor="middle" font-size="9.5" letter-spacing="-0.7" fill="#111" stroke="#111" stroke-width="0.38">1</text>
<rect x="412.4" y="451.2" width="5.9" height="8.8" fill="#f4f4f4"/><text x="415.7" y="459.0" text-anchor="middle" font-size="9.5" letter-spacing="-0.7" fill="#111" stroke="#111" stroke-width="0.38">1</text>
<g shape-rendering="crispEdges">
<polygon points="909.5,195.7 914.0,183.0 918.9,172.0 944.0,158.0 975.0,138.0 992.0,160.0 992.0,180.0 975.0,200.0 968.0,222.0 968.0,250.0 962.0,268.0 950.0,270.0 936.0,268.0 927.0,252.0 922.0,240.0 900.0,240.0 897.8,237.3 901.2,229.9 912.0,229.2 924.2,231.2 929.6,234.6 931.6,241.4 933.6,245.4 939.0,253.5 944.5,258.9 952.6,260.3 956.6,254.9 955.3,244.0 951.2,236.0 948.5,229.2 951.2,221.1 955.3,213.0 956.6,203.5 962.0,199.5 966.2,199.7 968.9,193.0 971.6,187.6 975.7,183.5 981.1,179.5 979.7,174.1 975.7,164.6 973.6,158.5 967.6,161.9 960.8,167.3 954.1,174.1 948.6,180.8 939.2,187.6 927.0,190.3 921.6,195.0 917.0,200.0 912.0,199.0" fill="#d5d5d5"/>
<polygon points="985.0,126.0 1020.0,123.0 1048.7,122.4 1074.6,125.3 1091.7,129.4 1105.2,133.3 1118.8,141.1 1130.5,146.9 1140.2,152.7 1148.0,158.5 1153.8,170.2 1159.6,181.8 1167.4,195.4 1175.1,211.0 1181.0,224.6 1188.9,233.3 1193.4,245.4 1193.4,260.6 1188.9,271.3 1181.3,278.9 1172.0,289.6 1160.4,301.4 1150.7,311.1 1145.8,321.7 1143.9,336.3 1137.1,349.9 1127.4,357.7 1117.7,363.5 1104.1,371.3 1088.5,377.1 1071.1,381.9 1055.5,384.9 1040.0,385.4 1016.5,383.2 1002.9,381.0 991.3,377.1 977.7,371.3 964.1,365.4 950.5,357.7 937.9,348.0 927.2,338.3 917.5,328.5 909.7,316.9 902.9,299.4 897.5,285.0 894.6,267.7 896.5,252.0 899.0,243.0 902.6,238.0 906.6,236.6 921.5,237.3 925.5,244.0 929.6,252.2 933.6,260.3 941.8,267.0 955.3,267.0 962.0,261.6 964.7,252.2 964.7,241.4 963.4,234.6 960.0,229.2 962.0,222.4 964.7,214.3 965.4,206.2 971.5,198.1 974.3,193.0 981.1,187.6 987.8,182.2 989.2,176.8 986.5,167.3 982.4,157.8 978.4,147.0 975.7,140.3 971.6,141.6 963.5,148.4 954.1,156.5 943.2,163.2 939.2,170.0 931.1,173.4 918.9,175.4 925.7,164.6 939.2,153.8 951.4,145.7 959.5,140.3 967.6,134.9 981.1,129.5" fill="#a7a7a7"/>
<polygon points="1010.0,140.7 1037.3,140.7 1049.1,142.5 1066.8,147.2 1078.7,150.2 1094.4,157.7 1108.6,165.4 1122.7,175.5 1140.0,189.6 1144.5,203.0 1147.0,215.0 1153.9,224.1 1157.7,234.8 1158.4,245.4 1158.5,257.2 1155.4,272.8 1150.8,286.5 1146.8,299.4 1139.0,315.0 1131.3,324.7 1121.6,334.4 1109.9,342.1 1096.3,349.9 1080.8,354.8 1065.2,357.7 1051.7,359.6 1035.9,362.6 1016.5,364.5 1001.0,365.4 987.4,363.5 977.7,358.6 966.0,349.9 955.3,340.2 944.7,326.6 935.0,313.0 928.2,299.4 921.4,283.9 917.7,271.0 916.1,259.7 924.2,266.1 933.8,274.2 943.4,277.4 965.9,272.6 975.5,264.5 980.3,251.7 980.5,242.4 994.0,228.9 987.0,219.0 981.9,211.4 983.2,203.2 995.4,196.5 1003.5,191.0 1002.2,180.3 999.8,166.0 1000.6,154.0 1007.7,147.8" fill="#1c1c1c"/>
</g>
<g transform="rotate(0.05 1037.3 254.9)" clip-path="url(#clipB)" fill="none" stroke="#cacaca" stroke-width="1.05" ><ellipse cx="1037.3" cy="254.9" rx="35.5" ry="33.6"/><ellipse cx="1037.3" cy="254.9" rx="106.0" ry="100.3"/><ellipse cx="1037.3" cy="254.9" rx="164.2" ry="155.4"/><ellipse cx="1037.3" cy="254.9" rx="203.2" ry="192.3"/><ellipse cx="1037.3" cy="254.9" rx="234.4" ry="221.9"/><ellipse cx="1037.3" cy="254.9" rx="260.5" ry="246.6"/><ellipse cx="1037.3" cy="254.9" rx="285.9" ry="270.6"/><line x1="1072.8" y1="254.9" x2="1323.2" y2="254.9"/><line x1="1071.6" y1="246.2" x2="1313.5" y2="184.9"/><line x1="1068.0" y1="238.1" x2="1284.9" y2="119.6"/><line x1="1062.4" y1="231.1" x2="1239.5" y2="63.5"/><line x1="1055.0" y1="225.8" x2="1180.2" y2="20.5"/><line x1="1046.5" y1="222.4" x2="1111.3" y2="-6.5"/><line x1="1037.3" y1="221.3" x2="1037.3" y2="-15.7"/><line x1="1028.1" y1="222.4" x2="963.3" y2="-6.5"/><line x1="1019.5" y1="225.8" x2="894.4" y2="20.5"/><line x1="1012.2" y1="231.1" x2="835.1" y2="63.5"/><line x1="1006.6" y1="238.1" x2="789.7" y2="119.6"/><line x1="1003.0" y1="246.2" x2="761.1" y2="184.9"/><line x1="1001.8" y1="254.9" x2="751.4" y2="254.9"/><line x1="1003.0" y1="263.6" x2="761.1" y2="324.9"/><line x1="1006.6" y1="271.7" x2="789.7" y2="390.2"/><line x1="1012.2" y1="278.7" x2="835.1" y2="446.3"/><line x1="1019.5" y1="284.0" x2="894.3" y2="489.3"/><line x1="1028.1" y1="287.4" x2="963.3" y2="516.3"/><line x1="1037.3" y1="288.5" x2="1037.3" y2="525.5"/><line x1="1046.5" y1="287.4" x2="1111.3" y2="516.3"/><line x1="1055.0" y1="284.0" x2="1180.2" y2="489.3"/><line x1="1062.4" y1="278.7" x2="1239.5" y2="446.3"/><line x1="1068.0" y1="271.7" x2="1284.9" y2="390.2"/><line x1="1071.6" y1="263.6" x2="1313.5" y2="324.9"/><line x1="737.3" y1="32.7" x2="1337.3" y2="32.7"/><line x1="737.3" y1="485.4" x2="1337.3" y2="485.4"/></g>
<g clip-path="url(#blkB)"><g transform="rotate(0.05 1037.3 254.9)" clip-path="url(#clipB)" fill="none" stroke="#e6e6e6" stroke-width="1.35" ><ellipse cx="1037.3" cy="254.9" rx="35.5" ry="33.6"/><ellipse cx="1037.3" cy="254.9" rx="106.0" ry="100.3"/><ellipse cx="1037.3" cy="254.9" rx="164.2" ry="155.4"/><ellipse cx="1037.3" cy="254.9" rx="203.2" ry="192.3"/><ellipse cx="1037.3" cy="254.9" rx="234.4" ry="221.9"/><ellipse cx="1037.3" cy="254.9" rx="260.5" ry="246.6"/><ellipse cx="1037.3" cy="254.9" rx="285.9" ry="270.6"/><line x1="1072.8" y1="254.9" x2="1323.2" y2="254.9"/><line x1="1071.6" y1="246.2" x2="1313.5" y2="184.9"/><line x1="1068.0" y1="238.1" x2="1284.9" y2="119.6"/><line x1="1062.4" y1="231.1" x2="1239.5" y2="63.5"/><line x1="1055.0" y1="225.8" x2="1180.2" y2="20.5"/><line x1="1046.5" y1="222.4" x2="1111.3" y2="-6.5"/><line x1="1037.3" y1="221.3" x2="1037.3" y2="-15.7"/><line x1="1028.1" y1="222.4" x2="963.3" y2="-6.5"/><line x1="1019.5" y1="225.8" x2="894.4" y2="20.5"/><line x1="1012.2" y1="231.1" x2="835.1" y2="63.5"/><line x1="1006.6" y1="238.1" x2="789.7" y2="119.6"/><line x1="1003.0" y1="246.2" x2="761.1" y2="184.9"/><line x1="1001.8" y1="254.9" x2="751.4" y2="254.9"/><line x1="1003.0" y1="263.6" x2="761.1" y2="324.9"/><line x1="1006.6" y1="271.7" x2="789.7" y2="390.2"/><line x1="1012.2" y1="278.7" x2="835.1" y2="446.3"/><line x1="1019.5" y1="284.0" x2="894.3" y2="489.3"/><line x1="1028.1" y1="287.4" x2="963.3" y2="516.3"/><line x1="1037.3" y1="288.5" x2="1037.3" y2="525.5"/><line x1="1046.5" y1="287.4" x2="1111.3" y2="516.3"/><line x1="1055.0" y1="284.0" x2="1180.2" y2="489.3"/><line x1="1062.4" y1="278.7" x2="1239.5" y2="446.3"/><line x1="1068.0" y1="271.7" x2="1284.9" y2="390.2"/><line x1="1071.6" y1="263.6" x2="1313.5" y2="324.9"/><line x1="737.3" y1="32.7" x2="1337.3" y2="32.7"/><line x1="737.3" y1="485.4" x2="1337.3" y2="485.4"/></g><ellipse cx="1143.2" cy="261" rx="13.7" ry="30" fill="none" stroke="#d8d8d8" stroke-width="1.2"/></g>
<line x1="1072.5" y1="255.9" x2="1325.8" y2="256" stroke="#cbcbcb" stroke-width="4.2"/>
<polyline points="991.0,108.0 1036.9,255.2 1028.5,288.0" fill="none" stroke="#333" stroke-width="0.9"/>
<g clip-path="url(#blkB)"><polyline points="991.0,108.0 1036.9,255.2 1028.5,288.0" fill="none" stroke="#8a8a8a" stroke-width="1" stroke-dasharray="1.5 1.5"/></g>
<polyline points="987.9,103.8 912.0,131.6" fill="none" stroke="#555555" stroke-width="3.4"/>
<polyline points="903.6,143.0 877.3,213.5" fill="none" stroke="#555555" stroke-width="3.4"/>
<polyline points="873.9,228.7 852.2,299.5" fill="none" stroke="#555555" stroke-width="3.4"/>
<polyline points="854.3,305.4 937.4,347.9 999.9,385.1" fill="none" stroke="#555555" stroke-width="3.4"/>
<rect x="1036.0" y="254.2" width="2" height="2" fill="#fff"/>
<rect x="1032.6" y="215.3" width="10.6" height="8.8" fill="#f4f4f4"/><text x="1038.2" y="223.1" text-anchor="middle" font-size="9.5" letter-spacing="-0.7" fill="#111" stroke="#111" stroke-width="0.38">18</text>
<rect x="1006.6" y="225.0" width="10.6" height="8.8" fill="#f4f4f4"/><text x="1012.2" y="232.8" text-anchor="middle" font-size="9.5" letter-spacing="-0.7" fill="#111" stroke="#111" stroke-width="0.38">18</text>
<rect x="1058.5" y="228.5" width="10.6" height="8.8" fill="#f4f4f4"/><text x="1064.1" y="236.3" text-anchor="middle" font-size="9.5" letter-spacing="-0.7" fill="#111" stroke="#111" stroke-width="0.38">18</text>
<rect x="1032.6" y="236.2" width="10.6" height="8.8" fill="#f4f4f4"/><text x="1038.2" y="244.0" text-anchor="middle" font-size="9.5" letter-spacing="-0.7" fill="#111" stroke="#111" stroke-width="0.38">19</text>
<rect x="1018.0" y="250.0" width="10.6" height="8.8" fill="#f4f4f4"/><text x="1023.6" y="257.8" text-anchor="middle" font-size="9.5" letter-spacing="-0.7" fill="#111" stroke="#111" stroke-width="0.38">19</text>
<rect x="1049.4" y="250.0" width="10.6" height="8.8" fill="#f4f4f4"/><text x="1055.0" y="257.8" text-anchor="middle" font-size="9.5" letter-spacing="-0.7" fill="#111" stroke="#111" stroke-width="0.38">19</text>
<rect x="1079.9" y="250.1" width="10.6" height="8.8" fill="#f4f4f4"/><text x="1085.5" y="257.9" text-anchor="middle" font-size="9.5" letter-spacing="-0.7" fill="#111" stroke="#111" stroke-width="0.38">18</text>
<rect x="981.3" y="246.2" width="10.6" height="8.8" fill="#f4f4f4"/><text x="987.0" y="254.0" text-anchor="middle" font-size="9.5" letter-spacing="-0.7" fill="#111" stroke="#111" stroke-width="0.38">18</text>
<rect x="1032.6" y="266.0" width="10.6" height="8.8" fill="#f4f4f4"/><text x="1038.2" y="273.8" text-anchor="middle" font-size="9.5" letter-spacing="-0.7" fill="#111" stroke="#111" stroke-width="0.38">19</text>
<rect x="1058.5" y="267.4" width="10.6" height="8.8" fill="#f4f4f4"/><text x="1064.1" y="275.2" text-anchor="middle" font-size="9.5" letter-spacing="-0.7" fill="#111" stroke="#111" stroke-width="0.38">18</text>
<rect x="1006.6" y="271.3" width="10.6" height="8.8" fill="#f4f4f4"/><text x="1012.2" y="279.1" text-anchor="middle" font-size="9.5" letter-spacing="-0.7" fill="#111" stroke="#111" stroke-width="0.38">18</text>
<rect x="1027.9" y="280.5" width="10.6" height="8.8" fill="#f4f4f4"/><text x="1033.5" y="288.3" text-anchor="middle" font-size="9.5" letter-spacing="-0.7" fill="#111" stroke="#111" stroke-width="0.38">19</text>
<rect x="981.7" y="201.5" width="10.6" height="8.8" fill="#f4f4f4"/><text x="987.4" y="209.3" text-anchor="middle" font-size="9.5" letter-spacing="-0.7" fill="#111" stroke="#111" stroke-width="0.38">17</text>
<rect x="1079.9" y="201.8" width="10.6" height="8.8" fill="#f4f4f4"/><text x="1085.5" y="209.6" text-anchor="middle" font-size="9.5" letter-spacing="-0.7" fill="#111" stroke="#111" stroke-width="0.38">17</text>
<rect x="1095.3" y="222.3" width="10.6" height="8.8" fill="#f4f4f4"/><text x="1100.9" y="230.1" text-anchor="middle" font-size="9.5" letter-spacing="-0.7" fill="#111" stroke="#111" stroke-width="0.38">17</text>
<rect x="1095.3" y="275.1" width="10.6" height="8.8" fill="#f4f4f4"/><text x="1100.9" y="282.9" text-anchor="middle" font-size="9.5" letter-spacing="-0.7" fill="#111" stroke="#111" stroke-width="0.38">17</text>
<rect x="981.7" y="294.1" width="10.6" height="8.8" fill="#f4f4f4"/><text x="987.4" y="301.9" text-anchor="middle" font-size="9.5" letter-spacing="-0.7" fill="#111" stroke="#111" stroke-width="0.38">17</text>
<rect x="1079.7" y="294.8" width="10.6" height="8.8" fill="#f4f4f4"/><text x="1085.3" y="302.6" text-anchor="middle" font-size="9.5" letter-spacing="-0.7" fill="#111" stroke="#111" stroke-width="0.38">17</text>
<rect x="967.4" y="274.6" width="10.6" height="8.8" fill="#f4f4f4"/><text x="973.1" y="282.4" text-anchor="middle" font-size="9.5" letter-spacing="-0.7" fill="#111" stroke="#111" stroke-width="0.38">17</text>
<rect x="967.2" y="222.4" width="10.6" height="8.8" fill="#f4f4f4"/><text x="972.9" y="230.2" text-anchor="middle" font-size="9.5" letter-spacing="-0.7" fill="#111" stroke="#111" stroke-width="0.38">12</text>
<rect x="1101.8" y="242.6" width="10.6" height="8.8" fill="#f4f4f4"/><text x="1107.4" y="250.4" text-anchor="middle" font-size="9.5" letter-spacing="-0.7" fill="#111" stroke="#111" stroke-width="0.38">17</text>
<rect x="1101.8" y="254.3" width="10.6" height="8.8" fill="#f4f4f4"/><text x="1107.4" y="262.1" text-anchor="middle" font-size="9.5" letter-spacing="-0.7" fill="#111" stroke="#111" stroke-width="0.38">17</text>
<rect x="1003.5" y="308.6" width="10.6" height="8.8" fill="#f4f4f4"/><text x="1009.1" y="316.4" text-anchor="middle" font-size="9.5" letter-spacing="-0.7" fill="#111" stroke="#111" stroke-width="0.38">17</text>
<rect x="1058.4" y="309.1" width="10.6" height="8.8" fill="#f4f4f4"/><text x="1064.0" y="316.9" text-anchor="middle" font-size="9.5" letter-spacing="-0.7" fill="#111" stroke="#111" stroke-width="0.38">17</text>
<rect x="1054.9" y="118.0" width="10.6" height="8.8" fill="#f4f4f4"/><text x="1060.5" y="125.8" text-anchor="middle" font-size="9.5" letter-spacing="-0.7" fill="#111" stroke="#111" stroke-width="0.38">14</text>
<rect x="1091.4" y="124.3" width="10.6" height="8.8" fill="#f4f4f4"/><text x="1097.0" y="132.1" text-anchor="middle" font-size="9.5" letter-spacing="-0.7" fill="#111" stroke="#111" stroke-width="0.38">14</text>
<rect x="1138.3" y="149.3" width="10.6" height="8.8" fill="#f4f4f4"/><text x="1143.9" y="157.1" text-anchor="middle" font-size="9.5" letter-spacing="-0.7" fill="#111" stroke="#111" stroke-width="0.38">14</text>
<rect x="1032.5" y="159.4" width="10.6" height="8.8" fill="#f4f4f4"/><text x="1038.1" y="167.2" text-anchor="middle" font-size="9.5" letter-spacing="-0.7" fill="#111" stroke="#111" stroke-width="0.38">17</text>
<rect x="1065.3" y="156.5" width="10.6" height="8.8" fill="#f4f4f4"/><text x="1070.9" y="164.3" text-anchor="middle" font-size="9.5" letter-spacing="-0.7" fill="#111" stroke="#111" stroke-width="0.38">16</text>
<rect x="1097.7" y="173.2" width="10.6" height="8.8" fill="#f4f4f4"/><text x="1103.3" y="181.0" text-anchor="middle" font-size="9.5" letter-spacing="-0.7" fill="#111" stroke="#111" stroke-width="0.38">16</text>
<rect x="1058.4" y="188.1" width="10.6" height="8.8" fill="#f4f4f4"/><text x="1064.0" y="195.9" text-anchor="middle" font-size="9.5" letter-spacing="-0.7" fill="#111" stroke="#111" stroke-width="0.38">17</text>
<rect x="1116.1" y="190.4" width="10.6" height="8.8" fill="#f4f4f4"/><text x="1121.8" y="198.2" text-anchor="middle" font-size="9.5" letter-spacing="-0.7" fill="#111" stroke="#111" stroke-width="0.38">16</text>
<rect x="1138.3" y="188.4" width="10.6" height="8.8" fill="#f4f4f4"/><text x="1143.9" y="196.2" text-anchor="middle" font-size="9.5" letter-spacing="-0.7" fill="#111" stroke="#111" stroke-width="0.38">15</text>
<rect x="1131.9" y="219.2" width="10.6" height="8.8" fill="#f4f4f4"/><text x="1137.5" y="227.0" text-anchor="middle" font-size="9.5" letter-spacing="-0.7" fill="#111" stroke="#111" stroke-width="0.38">16</text>
<rect x="1152.9" y="222.6" width="10.6" height="8.8" fill="#f4f4f4"/><text x="1158.5" y="230.4" text-anchor="middle" font-size="9.5" letter-spacing="-0.7" fill="#111" stroke="#111" stroke-width="0.38">15</text>
<rect x="1120.2" y="233.0" width="10.6" height="8.8" fill="#f4f4f4"/><text x="1125.8" y="240.8" text-anchor="middle" font-size="9.5" letter-spacing="-0.7" fill="#111" stroke="#111" stroke-width="0.38">17</text>
<rect x="1142.0" y="233.0" width="10.6" height="8.8" fill="#f4f4f4"/><text x="1147.6" y="240.8" text-anchor="middle" font-size="9.5" letter-spacing="-0.7" fill="#111" stroke="#111" stroke-width="0.38">16</text>
<rect x="1186.8" y="237.4" width="10.6" height="8.8" fill="#f4f4f4"/><text x="1192.4" y="245.2" text-anchor="middle" font-size="9.5" letter-spacing="-0.7" fill="#111" stroke="#111" stroke-width="0.38">14</text>
<rect x="1134.2" y="250.1" width="10.6" height="8.8" fill="#f4f4f4"/><text x="1139.8" y="257.9" text-anchor="middle" font-size="9.5" letter-spacing="-0.7" fill="#111" stroke="#111" stroke-width="0.38">16</text>
<rect x="1156.7" y="250.1" width="10.6" height="8.8" fill="#f4f4f4"/><text x="1162.3" y="257.9" text-anchor="middle" font-size="9.5" letter-spacing="-0.7" fill="#111" stroke="#111" stroke-width="0.38">15</text>
<rect x="1116.1" y="257.6" width="10.6" height="8.8" fill="#f4f4f4"/><text x="1121.8" y="265.4" text-anchor="middle" font-size="9.5" letter-spacing="-0.7" fill="#111" stroke="#111" stroke-width="0.38">17</text>
<rect x="1186.8" y="260.1" width="10.6" height="8.8" fill="#f4f4f4"/><text x="1192.4" y="267.9" text-anchor="middle" font-size="9.5" letter-spacing="-0.7" fill="#111" stroke="#111" stroke-width="0.38">14</text>
<rect x="1138.3" y="263.1" width="10.6" height="8.8" fill="#f4f4f4"/><text x="1143.9" y="270.9" text-anchor="middle" font-size="9.5" letter-spacing="-0.7" fill="#111" stroke="#111" stroke-width="0.38">16</text>
<rect x="1116.1" y="277.8" width="10.6" height="8.8" fill="#f4f4f4"/><text x="1121.8" y="285.6" text-anchor="middle" font-size="9.5" letter-spacing="-0.7" fill="#111" stroke="#111" stroke-width="0.38">17</text>
<rect x="1131.9" y="275.0" width="10.6" height="8.8" fill="#f4f4f4"/><text x="1137.5" y="282.8" text-anchor="middle" font-size="9.5" letter-spacing="-0.7" fill="#111" stroke="#111" stroke-width="0.38">16</text>
<rect x="1152.9" y="275.0" width="10.6" height="8.8" fill="#f4f4f4"/><text x="1158.5" y="282.8" text-anchor="middle" font-size="9.5" letter-spacing="-0.7" fill="#111" stroke="#111" stroke-width="0.38">15</text>
<rect x="1138.3" y="292.2" width="10.6" height="8.8" fill="#f4f4f4"/><text x="1143.9" y="300.0" text-anchor="middle" font-size="9.5" letter-spacing="-0.7" fill="#111" stroke="#111" stroke-width="0.38">16</text>
<rect x="1116.1" y="305.1" width="10.6" height="8.8" fill="#f4f4f4"/><text x="1121.8" y="312.9" text-anchor="middle" font-size="9.5" letter-spacing="-0.7" fill="#111" stroke="#111" stroke-width="0.38">16</text>
<rect x="1142.3" y="309.5" width="10.6" height="8.8" fill="#f4f4f4"/><text x="1147.9" y="317.3" text-anchor="middle" font-size="9.5" letter-spacing="-0.7" fill="#111" stroke="#111" stroke-width="0.38">15</text>
<rect x="1032.5" y="314.6" width="10.6" height="8.8" fill="#f4f4f4"/><text x="1038.1" y="322.4" text-anchor="middle" font-size="9.5" letter-spacing="-0.7" fill="#111" stroke="#111" stroke-width="0.38">17</text>
<rect x="1095.2" y="326.7" width="10.6" height="8.8" fill="#f4f4f4"/><text x="1100.8" y="334.5" text-anchor="middle" font-size="9.5" letter-spacing="-0.7" fill="#111" stroke="#111" stroke-width="0.38">16</text>
<rect x="1065.3" y="339.6" width="10.6" height="8.8" fill="#f4f4f4"/><text x="1070.9" y="347.4" text-anchor="middle" font-size="9.5" letter-spacing="-0.7" fill="#111" stroke="#111" stroke-width="0.38">16</text>
<rect x="1134.2" y="339.6" width="10.6" height="8.8" fill="#f4f4f4"/><text x="1139.8" y="347.4" text-anchor="middle" font-size="9.5" letter-spacing="-0.7" fill="#111" stroke="#111" stroke-width="0.38">15</text>
<rect x="1105.2" y="363.5" width="10.6" height="8.8" fill="#f4f4f4"/><text x="1110.8" y="371.3" text-anchor="middle" font-size="9.5" letter-spacing="-0.7" fill="#111" stroke="#111" stroke-width="0.38">14</text>
<rect x="1050.6" y="380.7" width="10.6" height="8.8" fill="#f4f4f4"/><text x="1056.2" y="388.5" text-anchor="middle" font-size="9.5" letter-spacing="-0.7" fill="#111" stroke="#111" stroke-width="0.38">14</text>
<rect x="1014.9" y="377.3" width="10.6" height="8.8" fill="#f4f4f4"/><text x="1020.6" y="385.1" text-anchor="middle" font-size="9.5" letter-spacing="-0.7" fill="#111" stroke="#111" stroke-width="0.38">15</text>
<rect x="1014.2" y="118.1" width="10.6" height="8.8" fill="#f4f4f4"/><text x="1019.9" y="125.9" text-anchor="middle" font-size="9.5" letter-spacing="-0.7" fill="#111" stroke="#111" stroke-width="0.38">15</text>
<rect x="969.7" y="123.8" width="10.6" height="8.8" fill="#f4f4f4"/><text x="975.4" y="131.6" text-anchor="middle" font-size="9.5" letter-spacing="-0.7" fill="#111" stroke="#111" stroke-width="0.38">10</text>
<rect x="926.6" y="153.1" width="10.6" height="8.8" fill="#f4f4f4"/><text x="932.2" y="160.9" text-anchor="middle" font-size="9.5" letter-spacing="-0.7" fill="#111" stroke="#111" stroke-width="0.38">12</text>
<rect x="996.1" y="156.0" width="10.6" height="8.8" fill="#f4f4f4"/><text x="1001.8" y="163.8" text-anchor="middle" font-size="9.5" letter-spacing="-0.7" fill="#111" stroke="#111" stroke-width="0.38">16</text>
<rect x="966.8" y="170.9" width="5.9" height="8.8" fill="#f4f4f4"/><text x="970.1" y="178.7" text-anchor="middle" font-size="9.5" letter-spacing="-0.7" fill="#111" stroke="#111" stroke-width="0.38">0</text>
<rect x="907.4" y="179.8" width="5.9" height="8.8" fill="#f4f4f4"/><text x="910.8" y="187.6" text-anchor="middle" font-size="9.5" letter-spacing="-0.7" fill="#111" stroke="#111" stroke-width="0.38">6</text>
<rect x="1003.6" y="187.6" width="10.6" height="8.8" fill="#f4f4f4"/><text x="1009.2" y="195.4" text-anchor="middle" font-size="9.5" letter-spacing="-0.7" fill="#111" stroke="#111" stroke-width="0.38">17</text>
<rect x="940.4" y="198.2" width="5.9" height="8.8" fill="#f4f4f4"/><text x="943.8" y="206.0" text-anchor="middle" font-size="9.5" letter-spacing="-0.7" fill="#111" stroke="#111" stroke-width="0.38">0</text>
<rect x="893.1" y="214.8" width="5.9" height="8.8" fill="#f4f4f4"/><text x="896.5" y="222.6" text-anchor="middle" font-size="9.5" letter-spacing="-0.7" fill="#111" stroke="#111" stroke-width="0.38">0</text>
<rect x="929.8" y="221.9" width="5.9" height="8.8" fill="#f4f4f4"/><text x="933.1" y="229.7" text-anchor="middle" font-size="9.5" letter-spacing="-0.7" fill="#111" stroke="#111" stroke-width="0.38">0</text>
<rect x="904.2" y="246.1" width="10.6" height="8.8" fill="#f4f4f4"/><text x="909.9" y="253.9" text-anchor="middle" font-size="9.5" letter-spacing="-0.7" fill="#111" stroke="#111" stroke-width="0.38">15</text>
<rect x="944.3" y="249.7" width="5.9" height="8.8" fill="#f4f4f4"/><text x="947.6" y="257.5" text-anchor="middle" font-size="9.5" letter-spacing="-0.7" fill="#111" stroke="#111" stroke-width="0.38">0</text>
<rect x="890.0" y="276.8" width="10.6" height="8.8" fill="#f4f4f4"/><text x="895.6" y="284.6" text-anchor="middle" font-size="9.5" letter-spacing="-0.7" fill="#111" stroke="#111" stroke-width="0.38">15</text>
<rect x="930.1" y="274.6" width="10.6" height="8.8" fill="#f4f4f4"/><text x="935.8" y="282.4" text-anchor="middle" font-size="9.5" letter-spacing="-0.7" fill="#111" stroke="#111" stroke-width="0.38">16</text>
<rect x="945.2" y="305.1" width="10.6" height="8.8" fill="#f4f4f4"/><text x="950.9" y="312.9" text-anchor="middle" font-size="9.5" letter-spacing="-0.7" fill="#111" stroke="#111" stroke-width="0.38">16</text>
<rect x="900.6" y="310.8" width="10.6" height="8.8" fill="#f4f4f4"/><text x="906.2" y="318.6" text-anchor="middle" font-size="9.5" letter-spacing="-0.7" fill="#111" stroke="#111" stroke-width="0.38">14</text>
<rect x="962.8" y="322.7" width="10.6" height="8.8" fill="#f4f4f4"/><text x="968.5" y="330.5" text-anchor="middle" font-size="9.5" letter-spacing="-0.7" fill="#111" stroke="#111" stroke-width="0.38">16</text>
<rect x="991.7" y="338.7" width="10.6" height="8.8" fill="#f4f4f4"/><text x="997.4" y="346.5" text-anchor="middle" font-size="9.5" letter-spacing="-0.7" fill="#111" stroke="#111" stroke-width="0.38">16</text>
<rect x="925.3" y="343.6" width="10.6" height="8.8" fill="#f4f4f4"/><text x="931.0" y="351.4" text-anchor="middle" font-size="9.5" letter-spacing="-0.7" fill="#111" stroke="#111" stroke-width="0.38">14</text>
<rect x="969.6" y="370.8" width="10.6" height="8.8" fill="#f4f4f4"/><text x="975.2" y="378.6" text-anchor="middle" font-size="9.5" letter-spacing="-0.7" fill="#111" stroke="#111" stroke-width="0.38">15</text>
<rect x="987.0" y="102.8" width="5.9" height="8.8" fill="#f4f4f4"/><text x="990.4" y="110.6" text-anchor="middle" font-size="9.5" letter-spacing="-0.7" fill="#111" stroke="#111" stroke-width="0.38">1</text>
<rect x="902.2" y="133.0" width="5.9" height="8.8" fill="#f4f4f4"/><text x="905.6" y="140.8" text-anchor="middle" font-size="9.5" letter-spacing="-0.7" fill="#111" stroke="#111" stroke-width="0.38">1</text>
<rect x="872.5" y="217.7" width="5.9" height="8.8" fill="#f4f4f4"/><text x="875.9" y="225.5" text-anchor="middle" font-size="9.5" letter-spacing="-0.7" fill="#111" stroke="#111" stroke-width="0.38">1</text>
<rect x="846.6" y="303.0" width="5.9" height="8.8" fill="#f4f4f4"/><text x="850.0" y="310.8" text-anchor="middle" font-size="9.5" letter-spacing="-0.7" fill="#111" stroke="#111" stroke-width="0.38">1</text>
<rect x="935.4" y="345.9" width="4" height="4" fill="#fff" stroke="#222" stroke-width="1"/>
<rect x="997.9" y="383.1" width="4" height="4" fill="#fff" stroke="#222" stroke-width="1"/>
<g stroke="#111" stroke-width="1.8" fill="none">
<polyline points="35.5,37 42.9,37 45.6,492.4 659.5,487.8"/>
<line x1="35.4" y1="37.0" x2="42.9" y2="37.0"/>
<line x1="35.6" y1="66.8" x2="43.1" y2="66.8"/>
<line x1="35.8" y1="104.0" x2="43.3" y2="104.0"/>
<line x1="36.1" y1="156.9" x2="43.6" y2="156.9"/>
<line x1="36.7" y1="259.0" x2="44.2" y2="259.0"/>
<line x1="37.3" y1="359.7" x2="44.8" y2="359.7"/>
<line x1="37.6" y1="414.2" x2="45.1" y2="414.2"/>
<line x1="37.9" y1="450.4" x2="45.4" y2="450.4"/>
<line x1="38.0" y1="479.7" x2="45.5" y2="479.7"/>
<line x1="80.0" y1="492.1" x2="80.0" y2="498.6"/>
<line x1="104.2" y1="492.0" x2="104.2" y2="498.5"/>
<line x1="130.6" y1="491.8" x2="130.6" y2="498.3"/>
<line x1="161.8" y1="491.5" x2="161.8" y2="498.0"/>
<line x1="201.0" y1="491.2" x2="201.0" y2="497.7"/>
<line x1="258.0" y1="490.8" x2="258.0" y2="497.3"/>
<line x1="365.1" y1="490.0" x2="365.1" y2="496.5"/>
<line x1="472.0" y1="489.2" x2="472.0" y2="495.7"/>
<line x1="529.7" y1="488.8" x2="529.7" y2="495.3"/>
<line x1="568.9" y1="488.5" x2="568.9" y2="495.0"/>
<line x1="600.3" y1="488.2" x2="600.3" y2="494.7"/>
</g>
<text x="33.8" y="40.8" text-anchor="end" font-size="11.2" fill="#111" stroke="#111" stroke-width="0.45">60</text>
<text x="34.0" y="70.6" text-anchor="end" font-size="11.2" fill="#111" stroke="#111" stroke-width="0.45">45</text>
<text x="34.2" y="107.8" text-anchor="end" font-size="11.2" fill="#111" stroke="#111" stroke-width="0.45">30</text>
<text x="34.5" y="160.7" text-anchor="end" font-size="11.2" fill="#111" stroke="#111" stroke-width="0.45">15</text>
<text x="35.1" y="262.8" text-anchor="end" font-size="11.2" fill="#111" stroke="#111" stroke-width="0.45">0</text>
<text x="35.7" y="363.5" text-anchor="end" font-size="11.2" fill="#111" stroke="#111" stroke-width="0.45">-15</text>
<text x="36.1" y="418.0" text-anchor="end" font-size="11.2" fill="#111" stroke="#111" stroke-width="0.45">-30</text>
<text x="36.3" y="454.2" text-anchor="end" font-size="11.2" fill="#111" stroke="#111" stroke-width="0.45">-45</text>
<text x="36.5" y="483.5" text-anchor="end" font-size="11.2" fill="#111" stroke="#111" stroke-width="0.45">-60</text>
<text x="78.5" y="508.3" text-anchor="middle" font-size="11.2" fill="#111" stroke="#111" stroke-width="0.45">-90</text>
<text x="102.7" y="508.2" text-anchor="middle" font-size="11.2" fill="#111" stroke="#111" stroke-width="0.45">-75</text>
<text x="129.1" y="508.0" text-anchor="middle" font-size="11.2" fill="#111" stroke="#111" stroke-width="0.45">-60</text>
<text x="160.3" y="507.7" text-anchor="middle" font-size="11.2" fill="#111" stroke="#111" stroke-width="0.45">-45</text>
<text x="199.5" y="507.4" text-anchor="middle" font-size="11.2" fill="#111" stroke="#111" stroke-width="0.45">-30</text>
<text x="256.5" y="507.0" text-anchor="middle" font-size="11.2" fill="#111" stroke="#111" stroke-width="0.45">-15</text>
<text x="364.8" y="506.2" text-anchor="middle" font-size="11.2" fill="#111" stroke="#111" stroke-width="0.45">0</text>
<text x="471.7" y="505.4" text-anchor="middle" font-size="11.2" fill="#111" stroke="#111" stroke-width="0.45">15</text>
<text x="529.4" y="505.0" text-anchor="middle" font-size="11.2" fill="#111" stroke="#111" stroke-width="0.45">30</text>
<text x="568.6" y="504.7" text-anchor="middle" font-size="11.2" fill="#111" stroke="#111" stroke-width="0.45">45</text>
<text x="600.0" y="504.4" text-anchor="middle" font-size="11.2" fill="#111" stroke="#111" stroke-width="0.45">60</text>
<text x="46.4" y="48.8" font-size="20.9" fill="#111" stroke="#111" stroke-width="0.3">(a)</text>
<g stroke="#111" stroke-width="1.8" fill="none">
<polyline points="710.2,31.9 717.7,31.9 717.5,489.4 1332.4,489.6"/>
<line x1="710.2" y1="31.9" x2="717.6" y2="31.9"/>
<line x1="710.2" y1="61.3" x2="717.6" y2="61.3"/>
<line x1="710.2" y1="98.0" x2="717.6" y2="98.0"/>
<line x1="710.2" y1="152.4" x2="717.6" y2="152.4"/>
<line x1="710.2" y1="254.3" x2="717.6" y2="254.3"/>
<line x1="710.2" y1="356.5" x2="717.6" y2="356.5"/>
<line x1="710.2" y1="410.4" x2="717.6" y2="410.4"/>
<line x1="710.2" y1="446.4" x2="717.6" y2="446.4"/>
<line x1="710.2" y1="476.8" x2="717.6" y2="476.8"/>
<line x1="801.9" y1="489.5" x2="801.9" y2="496.0"/>
<line x1="833.4" y1="489.5" x2="833.4" y2="496.0"/>
<line x1="872.7" y1="489.5" x2="872.7" y2="496.0"/>
<line x1="930.1" y1="489.5" x2="930.1" y2="496.0"/>
<line x1="1037.3" y1="489.5" x2="1037.3" y2="496.0"/>
<line x1="1144.5" y1="489.5" x2="1144.5" y2="496.0"/>
<line x1="1202.4" y1="489.5" x2="1202.4" y2="496.0"/>
<line x1="1241.5" y1="489.5" x2="1241.5" y2="496.0"/>
<line x1="1273.0" y1="489.5" x2="1273.0" y2="496.0"/>
<line x1="1299.4" y1="489.5" x2="1299.4" y2="496.0"/>
<line x1="1324.0" y1="489.5" x2="1324.0" y2="496.0"/>
</g>
<text x="708.4" y="35.7" text-anchor="end" font-size="11.2" fill="#111" stroke="#111" stroke-width="0.45">60</text>
<text x="708.4" y="65.1" text-anchor="end" font-size="11.2" fill="#111" stroke="#111" stroke-width="0.45">45</text>
<text x="708.4" y="101.8" text-anchor="end" font-size="11.2" fill="#111" stroke="#111" stroke-width="0.45">30</text>
<text x="708.4" y="156.2" text-anchor="end" font-size="11.2" fill="#111" stroke="#111" stroke-width="0.45">15</text>
<text x="708.4" y="258.1" text-anchor="end" font-size="11.2" fill="#111" stroke="#111" stroke-width="0.45">0</text>
<text x="708.4" y="360.3" text-anchor="end" font-size="11.2" fill="#111" stroke="#111" stroke-width="0.45">-15</text>
<text x="708.4" y="414.2" text-anchor="end" font-size="11.2" fill="#111" stroke="#111" stroke-width="0.45">-30</text>
<text x="708.4" y="450.2" text-anchor="end" font-size="11.2" fill="#111" stroke="#111" stroke-width="0.45">-45</text>
<text x="708.4" y="480.6" text-anchor="end" font-size="11.2" fill="#111" stroke="#111" stroke-width="0.45">-60</text>
<text x="800.4" y="506.2" text-anchor="middle" font-size="11.2" fill="#111" stroke="#111" stroke-width="0.45">-60</text>
<text x="831.9" y="506.2" text-anchor="middle" font-size="11.2" fill="#111" stroke="#111" stroke-width="0.45">-45</text>
<text x="871.2" y="506.2" text-anchor="middle" font-size="11.2" fill="#111" stroke="#111" stroke-width="0.45">-30</text>
<text x="928.6" y="506.2" text-anchor="middle" font-size="11.2" fill="#111" stroke="#111" stroke-width="0.45">-15</text>
<text x="1037.0" y="506.2" text-anchor="middle" font-size="11.2" fill="#111" stroke="#111" stroke-width="0.45">0</text>
<text x="1144.2" y="506.2" text-anchor="middle" font-size="11.2" fill="#111" stroke="#111" stroke-width="0.45">15</text>
<text x="1202.1" y="506.2" text-anchor="middle" font-size="11.2" fill="#111" stroke="#111" stroke-width="0.45">30</text>
<text x="1241.2" y="506.2" text-anchor="middle" font-size="11.2" fill="#111" stroke="#111" stroke-width="0.45">45</text>
<text x="1272.7" y="506.2" text-anchor="middle" font-size="11.2" fill="#111" stroke="#111" stroke-width="0.45">60</text>
<text x="1299.1" y="506.2" text-anchor="middle" font-size="11.2" fill="#111" stroke="#111" stroke-width="0.45">75</text>
<text x="1323.7" y="506.2" text-anchor="middle" font-size="11.2" fill="#111" stroke="#111" stroke-width="0.45">90</text>
<text x="721.6" y="45.8" font-size="22.3" fill="#111" stroke="#111" stroke-width="0.3">(b)</text>
<polygon points="56.4,516.6 118.9,516.2 118.9,533.6 56.4,534.0" fill="#ffffff"/><polygon points="118.9,516.2 181.4,515.9 181.4,533.2 118.9,533.6" fill="#d5d5d5"/><polygon points="181.4,515.9 306.4,515.1 306.4,532.5 181.4,533.2" fill="#a7a7a7"/><polygon points="306.4,515.1 556.4,513.6 556.4,531.0 306.4,532.5" fill="#1c1c1c"/><polygon points="56.4,516.6 556.4,513.6 556.4,531.0 56.4,534.0" fill="none" stroke="#222" stroke-width="1.1"/><g stroke="#111" stroke-width="1.7" fill="none"><line x1="55.6" y1="540.8" x2="557.2" y2="537.4"/><line x1="56.4" y1="540.8" x2="56.4" y2="546.3"/><line x1="118.9" y1="540.4" x2="118.9" y2="545.9"/><line x1="181.4" y1="539.9" x2="181.4" y2="545.4"/><line x1="243.9" y1="539.5" x2="243.9" y2="545.0"/><line x1="306.4" y1="539.1" x2="306.4" y2="544.6"/><line x1="368.9" y1="538.7" x2="368.9" y2="544.2"/><line x1="431.4" y1="538.2" x2="431.4" y2="543.8"/><line x1="493.9" y1="537.8" x2="493.9" y2="543.3"/><line x1="556.4" y1="537.4" x2="556.4" y2="542.9"/></g><text x="56.4" y="557.2" text-anchor="middle" font-size="11.2" fill="#111" stroke="#111" stroke-width="0.45">0</text><text x="118.9" y="556.9" text-anchor="middle" font-size="11.2" fill="#111" stroke="#111" stroke-width="0.45">4</text><text x="181.4" y="556.7" text-anchor="middle" font-size="11.2" fill="#111" stroke="#111" stroke-width="0.45">8</text><text x="243.9" y="556.4" text-anchor="middle" font-size="11.2" fill="#111" stroke="#111" stroke-width="0.45">12</text><text x="306.4" y="556.1" text-anchor="middle" font-size="11.2" fill="#111" stroke="#111" stroke-width="0.45">16</text><text x="368.9" y="555.8" text-anchor="middle" font-size="11.2" fill="#111" stroke="#111" stroke-width="0.45">20</text><text x="431.4" y="555.5" text-anchor="middle" font-size="11.2" fill="#111" stroke="#111" stroke-width="0.45">24</text><text x="493.9" y="555.3" text-anchor="middle" font-size="11.2" fill="#111" stroke="#111" stroke-width="0.45">28</text><text x="556.4" y="555.0" text-anchor="middle" font-size="11.2" fill="#111" stroke="#111" stroke-width="0.45">32</text><text x="564.9" y="555.0" text-anchor="start" font-size="11.2" fill="#111" stroke="#111" stroke-width="0.45">dB</text>
<polygon points="726.9,514.8 789.7,514.8 789.7,532.4 726.9,532.4" fill="#ffffff"/><polygon points="789.7,514.8 852.5,514.8 852.5,532.4 789.7,532.4" fill="#d5d5d5"/><polygon points="852.5,514.8 978.1,514.8 978.1,532.4 852.5,532.4" fill="#a7a7a7"/><polygon points="978.1,514.8 1229.3,514.8 1229.3,532.4 978.1,532.4" fill="#1c1c1c"/><polygon points="726.9,514.8 1229.3,514.8 1229.3,532.4 726.9,532.4" fill="none" stroke="#222" stroke-width="1.1"/><g stroke="#111" stroke-width="1.7" fill="none"><line x1="726.1" y1="538.4" x2="1230.1" y2="538.4"/><line x1="726.9" y1="538.4" x2="726.9" y2="543.9"/><line x1="789.7" y1="538.4" x2="789.7" y2="543.9"/><line x1="852.5" y1="538.4" x2="852.5" y2="543.9"/><line x1="915.3" y1="538.4" x2="915.3" y2="543.9"/><line x1="978.1" y1="538.4" x2="978.1" y2="543.9"/><line x1="1040.9" y1="538.4" x2="1040.9" y2="543.9"/><line x1="1103.7" y1="538.4" x2="1103.7" y2="543.9"/><line x1="1166.5" y1="538.4" x2="1166.5" y2="543.9"/><line x1="1229.3" y1="538.4" x2="1229.3" y2="543.9"/></g><text x="726.9" y="557.0" text-anchor="middle" font-size="11.2" fill="#111" stroke="#111" stroke-width="0.45">0</text><text x="789.7" y="557.0" text-anchor="middle" font-size="11.2" fill="#111" stroke="#111" stroke-width="0.45">4</text><text x="852.5" y="557.0" text-anchor="middle" font-size="11.2" fill="#111" stroke="#111" stroke-width="0.45">8</text><text x="915.3" y="557.1" text-anchor="middle" font-size="11.2" fill="#111" stroke="#111" stroke-width="0.45">12</text><text x="978.1" y="557.1" text-anchor="middle" font-size="11.2" fill="#111" stroke="#111" stroke-width="0.45">16</text><text x="1040.9" y="557.1" text-anchor="middle" font-size="11.2" fill="#111" stroke="#111" stroke-width="0.45">20</text><text x="1103.7" y="557.2" text-anchor="middle" font-size="11.2" fill="#111" stroke="#111" stroke-width="0.45">24</text><text x="1166.5" y="557.2" text-anchor="middle" font-size="11.2" fill="#111" stroke="#111" stroke-width="0.45">28</text><text x="1229.3" y="557.2" text-anchor="middle" font-size="11.2" fill="#111" stroke="#111" stroke-width="0.45">32</text><text x="1237.8" y="557.2" text-anchor="start" font-size="11.2" fill="#111" stroke="#111" stroke-width="0.45">dB</text>
</svg></body></html>
